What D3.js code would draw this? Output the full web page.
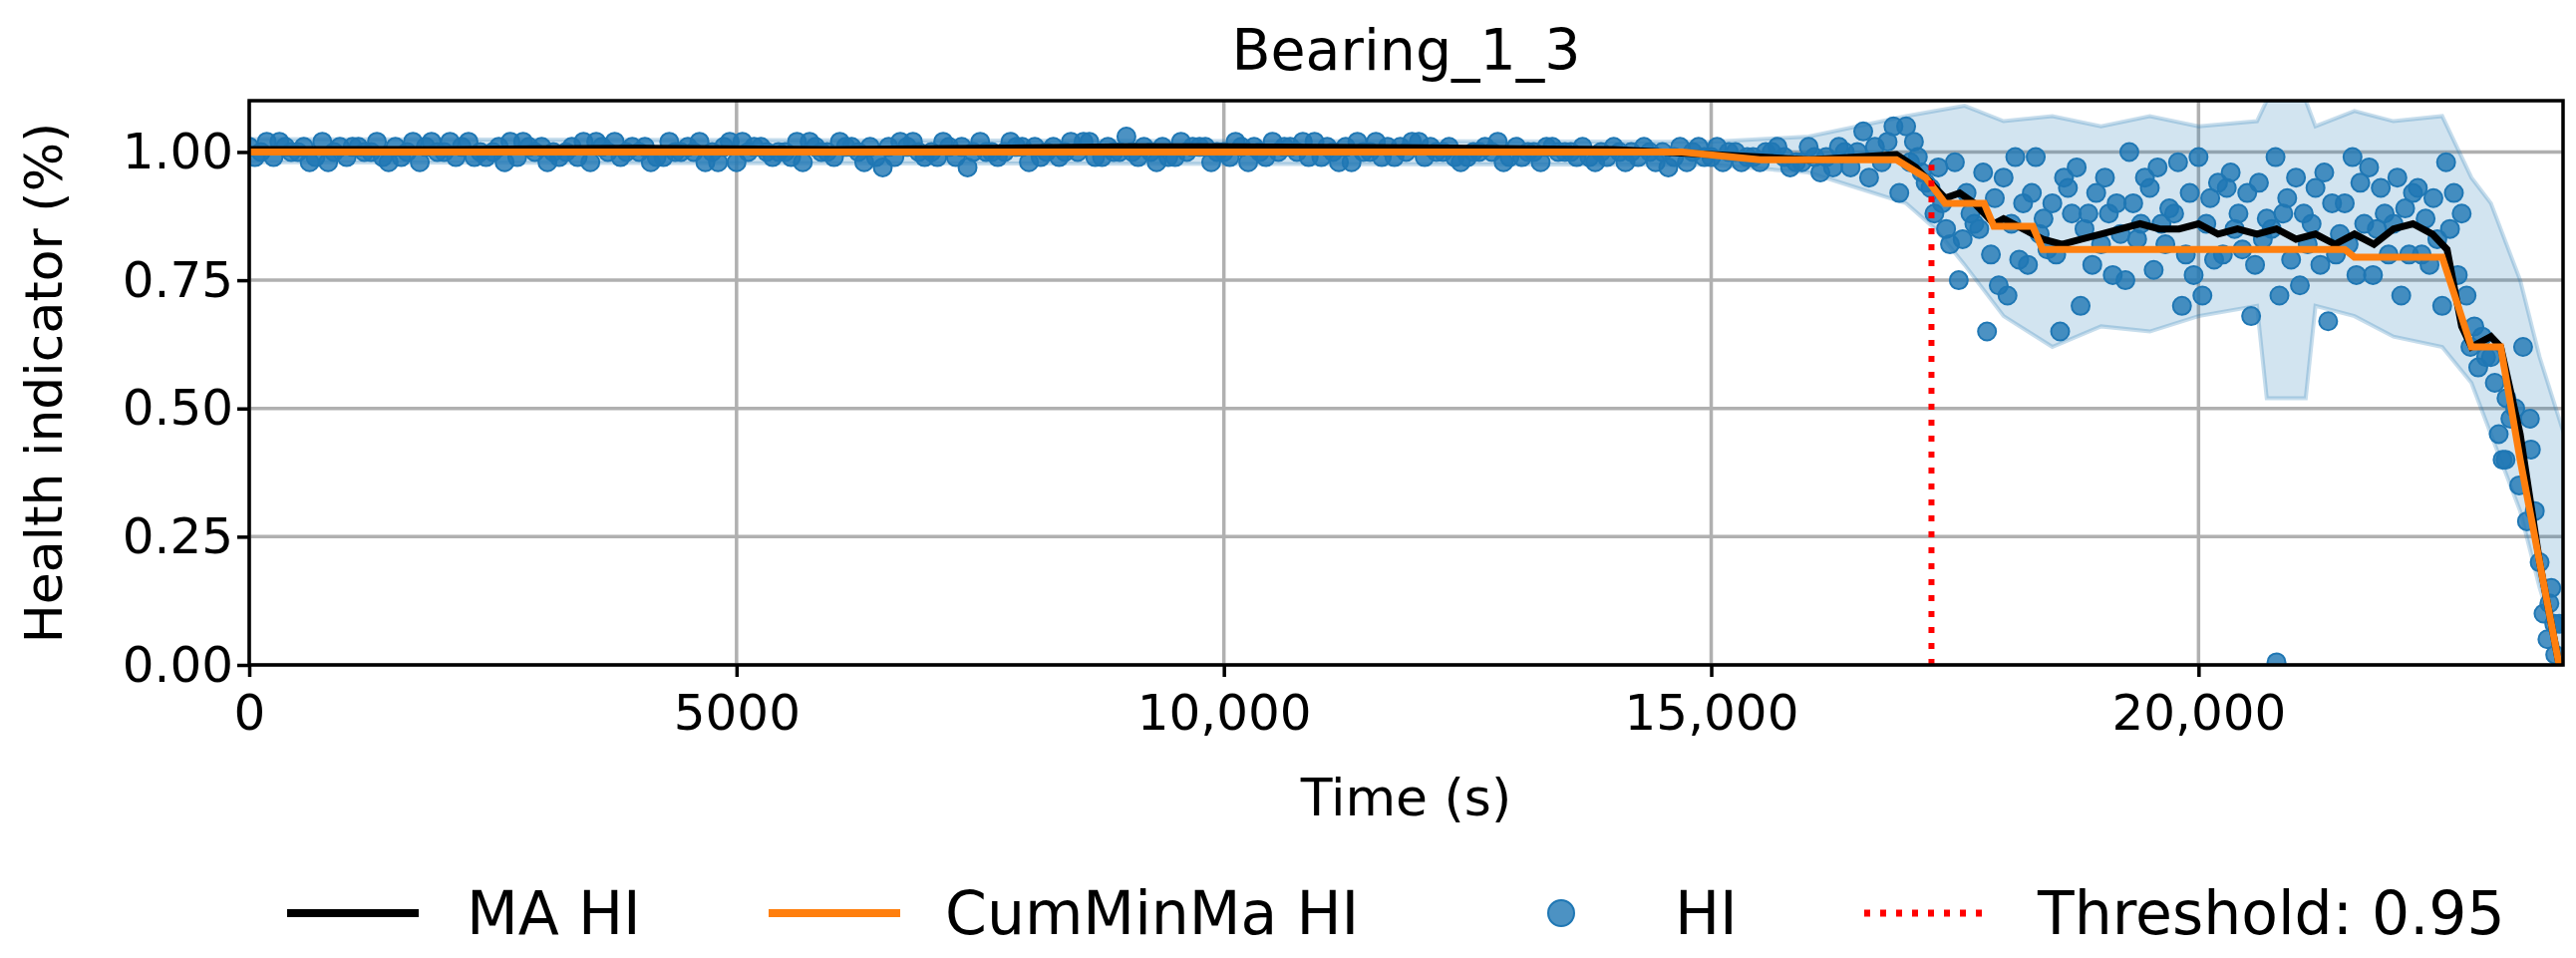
<!DOCTYPE html>
<html><head><meta charset="utf-8">
<script src="https://cdn.jsdelivr.net/npm/d3@7"></script>
<style>body{margin:0;background:#fff;} text{font-family:"DejaVu Sans",sans-serif;}</style>
</head><body><svg id="chart"></svg>
<script>
// time ticks and y ticks
const xTicks = [0, 5000, 10000, 15000, 20000];
const yTicks = [0, 0.25, 0.5, 0.75, 1.0];
const threshold = 17260;

// HI samples, early stage, one per 250 s starting at 0
const earlyA = [1.01,0.99,1.00,1.02,0.99,1.00,1.01,0.98,1.00,1.02,1.00,0.99,1.01,1.00,0.98,1.02,1.00,0.99,1.01,1.00,0.98,1.01,1.00,1.02,0.99,1.00,0.97,1.01,1.00,0.99,1.02,1.00,0.98,1.01,1.00,0.99,1.03,1.00,0.99,1.01,1.00,0.98,1.02,1.00,0.99,1.01,1.00,0.99,1.02,1.00,0.99,1.00,1.01,0.98,1.00,0.99,1.01,0.99,1.00,0.98,0.99,1.00,0.98,0.99,1.01,0.97,1.00,0.98];
const earlyB = [0.99,1.02,1.01,0.98,1.01,1.02,0.99,1.01,1.02,0.99,1.01,1.02,0.98,1.01,1.02,0.99,1.01,1.02,1.00,0.98,1.02,1.00,0.99,1.01,1.02,0.98,1.01,1.02,0.99,1.01,1.00,1.02,1.01,0.99,1.02,1.01,1.00,0.98,1.02,1.01,0.99,1.01,1.00,1.02,1.01,0.98,1.02,1.01,0.99,1.01,1.00,1.02,0.99,1.01,1.00,0.98,1.00,1.01,0.97,1.00,1.01,0.98,1.00,0.97,0.99,1.01,1.04,1.02];
const earlyC = [1.00,1.01,0.98,1.00,1.01,0.99,1.00,1.02,0.99,1.00,0.98,1.01,1.00,0.99,1.01,1.00,0.98,1.00,1.02,1.01,1.00,0.99,1.02,1.00,1.01,1.01,0.99,1.00,1.02,0.97,1.00,1.01,0.99,1.00,1.02,1.00,0.99,1.01,1.00,0.98,1.02,1.00,1.01,0.99,1.00,1.02,0.99,1.00,1.01,0.99,1.00,0.98,1.00,1.01,0.99,1.00,0.98,1.00,0.99,1.01,0.98,0.99,1.00,0.98,0.96,1.00,0.95,1.05];
const earlyD = [1.02,1.00,0.99,1.01,1.00,0.98,1.02,1.00,1.01,0.99,1.02,1.00,0.99,1.02,1.00,1.01,0.99,1.00,0.98,1.02,1.01,1.00,0.98,1.00,1.01,0.99,1.02,0.99,1.01,1.00,0.99,1.01,1.00,1.02,0.99,1.00,1.01,0.99,1.01,1.00,1.01,0.99,1.01,1.02,0.98,1.00,1.01,1.02,1.00,0.98,1.01,0.99,1.00,1.00,1.01,0.99,1.00,0.98,1.01,0.99,1.00,0.99,1.01,0.98,0.99,0.97,1.01,0.92];
// HI samples, late stage, one per 250 s starting at 17000
const lateA = [1.05,0.93,0.98,0.85,0.95,0.78,0.90,0.97,0.82,0.75,0.93,0.88,0.99,0.80,0.92,0.85,0.95,0.78,0.90,0.97,0.86,0.93,0.70,0.72,0.60,0.50,0.20];
const lateB = [0.98,0.88,0.75,0.96,0.72,0.92,0.80,0.70,0.95,1.00,0.77,0.98,0.72,0.93,0.68,0.99,0.74,0.96,0.82,0.76,0.95,0.80,0.98,0.62,0.55,0.35,0.10];
const lateC = [1.02,0.97,0.83,0.65,0.86,0.99,0.65,0.85,0.88,0.90,0.97,0.70,0.86,0.96,0.78,0.72,0.88,0.67,0.99,0.85,0.72,0.87,0.85,0.66,0.45,0.62,0.05];
const lateD = [0.99,0.90,0.92,0.80,0.99,0.84,0.95,0.88,0.76,0.83,0.86,0.80,0.91,0.85,0.94,0.88,0.82,0.90,0.76,0.93,0.89,0.78,0.92,0.58,0.40,0.28,0.15];
const lateE = [0.96,0.85,0.88,0.91,0.79,0.87,0.93,0.78,0.90,0.86,0.82,0.92,0.79,0.88,0.83,0.91,0.86,0.80,0.94,0.88,0.80,0.91,0.76,0.64,0.52,0.42,0.02];
const lateF = [0.94,0.82,0.86,0.74,0.90,0.81,0.88,0.92,0.84,0.95,0.89,0.76,0.94,0.81,0.87,0.79,0.93,0.84,0.86,0.80,0.92,0.83,0.88,0.60,0.48,0.30,0.08];
const extraT = [20800, 23150, 23400, 23600, 23650];
const extraV = [0.005, 0.40, 0.48, 0.12, 0.08];

// std band
const bandT = [0,15000,16000,16500,17000,17300,17600,18000,18500,19000,19500,20000,20600,20700,21100,21200,21600,22000,22500,22800,23000,23300,23500,23750];
const bandUp = [1.025,1.02,1.03,1.05,1.07,1.08,1.09,1.06,1.07,1.05,1.07,1.05,1.06,1.10,1.10,1.05,1.08,1.06,1.07,0.95,0.90,0.75,0.60,0.45];
const bandLo = [0.98,0.975,0.96,0.93,0.90,0.85,0.78,0.68,0.62,0.66,0.65,0.68,0.70,0.52,0.52,0.70,0.68,0.64,0.62,0.55,0.45,0.30,0.15,0.00];

// moving average HI
const maT = [0,2000,4000,6000,8000,9000,10000,12000,14000,15000,15500,16000,16500,16900,17100,17300,17400,17550,17700,17800,17900,18000,18200,18400,18600,18800,19000,19200,19400,19600,19800,20000,20200,20400,20600,20800,21000,21200,21400,21600,21800,22000,22200,22400,22550,22700,22800,23000,23100,23300,23500,23700];
const maV = [1.005,1.005,1.007,1.005,1.008,1.01,1.01,1.008,1.005,0.995,0.99,0.985,0.99,0.995,0.97,0.93,0.91,0.92,0.90,0.88,0.86,0.87,0.85,0.83,0.82,0.83,0.84,0.85,0.86,0.85,0.85,0.86,0.84,0.85,0.84,0.85,0.83,0.84,0.82,0.84,0.82,0.85,0.86,0.84,0.81,0.66,0.62,0.64,0.62,0.45,0.20,0.00];
// cumulative min of MA
const cumT = [0,14700,15500,16900,17200,17400,17500,17800,17900,18300,18400,21500,21600,22500,22800,23100,23300,23700];
const cumV = [1.0,1.0,0.985,0.985,0.95,0.90,0.90,0.90,0.855,0.855,0.81,0.81,0.795,0.795,0.62,0.62,0.40,0.0];

const W = 2584, H = 961;
const margin = {top: 101, right: 13, bottom: 294, left: 250};
const svg = d3.select('#chart').attr('width', W).attr('height', H);
const iw = W - margin.left - margin.right, ih = H - margin.top - margin.bottom;
const g = svg.append('g').attr('transform', `translate(${margin.left},${margin.top})`);

const x = d3.scaleLinear().domain([0, 23740]).range([0, iw]);
const y = d3.scaleLinear().domain([0, 1.1]).range([ih, 0]);

g.append('clipPath').attr('id', 'clip').append('rect').attr('width', iw).attr('height', ih);

// grid
g.selectAll('.gx').data(xTicks).enter().append('line')
  .attr('x1', d => x(d)).attr('x2', d => x(d)).attr('y1', 0).attr('y2', ih)
  .attr('stroke', '#b0b0b0').attr('stroke-width', 3.5);
g.selectAll('.gy').data(yTicks).enter().append('line')
  .attr('y1', d => y(d)).attr('y2', d => y(d)).attr('x1', 0).attr('x2', iw)
  .attr('stroke', '#b0b0b0').attr('stroke-width', 3.5);

const plot = g.append('g').attr('clip-path', 'url(#clip)');

const band = bandT.map((t, i) => ({t, up: bandUp[i], lo: bandLo[i]}));
plot.append('path').datum(band)
  .attr('d', d3.area().x(d => x(d.t)).y0(d => y(d.lo)).y1(d => y(d.up)))
  .attr('fill', '#1f77b4').attr('fill-opacity', 0.2)
  .attr('stroke', '#1f77b4').attr('stroke-opacity', 0.25).attr('stroke-width', 4);

const pts = [];
[earlyA, earlyB, earlyC, earlyD].forEach((arr, k) => arr.forEach((v, i) => pts.push({t: i * 250 + k * 60, v})));
[lateA, lateB, lateC, lateD, lateE, lateF].forEach((arr, k) => arr.forEach((v, i) => pts.push({t: 17000 + i * 250 + k * 40, v})));
extraT.forEach((t, i) => pts.push({t, v: extraV[i]}));

plot.selectAll('circle').data(pts).enter().append('circle')
  .attr('cx', d => x(d.t)).attr('cy', d => y(d.v)).attr('r', 9)
  .attr('fill', '#1f77b4').attr('fill-opacity', 0.8)
  .attr('stroke', '#1f77b4').attr('stroke-width', 2);

const line = d3.line().x(d => x(d[0])).y(d => y(d[1]));
plot.append('path').datum(maT.map((t, i) => [t, maV[i]]))
  .attr('d', line).attr('fill', 'none').attr('stroke', '#000').attr('stroke-width', 7);
plot.append('path').datum(cumT.map((t, i) => [t, cumV[i]]))
  .attr('d', line).attr('fill', 'none').attr('stroke', '#ff7f0e').attr('stroke-width', 7);

g.append('line').attr('x1', x(threshold)).attr('x2', x(threshold))
  .attr('y1', y(0)).attr('y2', y(0.975))
  .attr('stroke', 'red').attr('stroke-width', 6).attr('stroke-dasharray', '6,10');

// axes
const xAxis = d3.axisBottom(x).tickValues(xTicks)
  .tickFormat(d => d >= 10000 ? d3.format(',')(d) : d).tickSize(12).tickSizeOuter(0);
const yAxis = d3.axisLeft(y).tickValues(yTicks).tickFormat(d3.format('.2f')).tickSize(12).tickSizeOuter(0);
const xg = g.append('g').attr('transform', `translate(0,${ih})`).call(xAxis);
const yg = g.append('g').call(yAxis);
[xg, yg].forEach(a => {
  a.select('.domain').remove();
  a.selectAll('line').attr('stroke', '#000').attr('stroke-width', 3.5);
  a.selectAll('text').attr('font-size', 50).attr('fill', '#000').attr('font-family', 'DejaVu Sans');
});
xg.selectAll('text').attr('dy', '1.0em');
yg.selectAll('text').attr('x', -16);
g.append('rect').attr('width', iw).attr('height', ih).attr('fill', 'none').attr('stroke', '#000').attr('stroke-width', 3.5);

svg.append('text').attr('x', margin.left + iw / 2).attr('y', 70).attr('text-anchor', 'middle')
  .attr('font-size', 57).text('Bearing_1_3');
svg.append('text').attr('x', margin.left + iw / 2).attr('y', 818).attr('text-anchor', 'middle')
  .attr('font-size', 52).text('Time (s)');
svg.append('text').attr('transform', `translate(62,${margin.top + ih / 2}) rotate(-90)`)
  .attr('text-anchor', 'middle').attr('font-size', 52).text('Health indicator (%)');

// legend
const ly = 916;
const leg = svg.append('g');
leg.append('line').attr('x1', 288).attr('x2', 420).attr('y1', ly).attr('y2', ly).attr('stroke', '#000').attr('stroke-width', 8);
leg.append('text').attr('x', 468).attr('y', ly + 21).attr('font-size', 60).text('MA HI');
leg.append('line').attr('x1', 771).attr('x2', 903).attr('y1', ly).attr('y2', ly).attr('stroke', '#ff7f0e').attr('stroke-width', 8);
leg.append('text').attr('x', 948).attr('y', ly + 21).attr('font-size', 60).text('CumMinMa HI');
leg.append('circle').attr('cx', 1566).attr('cy', ly).attr('r', 13).attr('fill', '#1f77b4').attr('fill-opacity', 0.8).attr('stroke', '#1f77b4').attr('stroke-width', 2);
leg.append('text').attr('x', 1680).attr('y', ly + 21).attr('font-size', 60).text('HI');
leg.append('line').attr('x1', 1870).attr('x2', 1994).attr('y1', ly).attr('y2', ly).attr('stroke', 'red').attr('stroke-width', 7).attr('stroke-dasharray', '6,10');
leg.append('text').attr('x', 2044).attr('y', ly + 21).attr('font-size', 60).text('Threshold: 0.95');
</script></body></html>
